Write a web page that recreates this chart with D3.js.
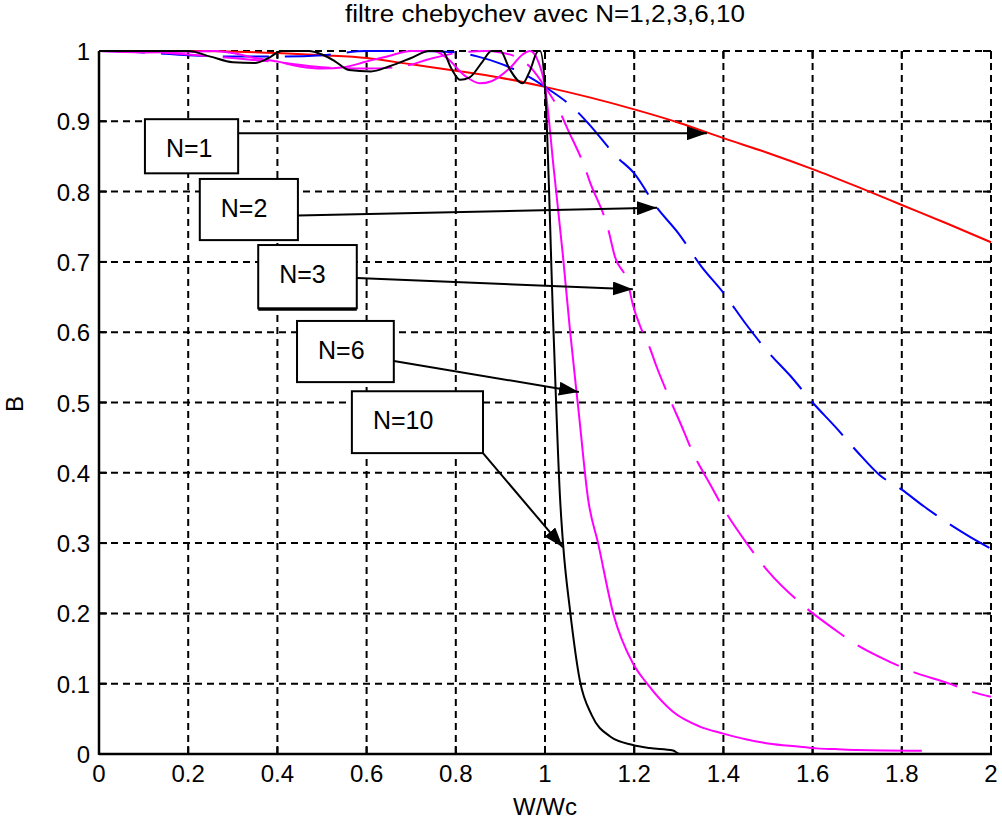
<!DOCTYPE html>
<html>
<head>
<meta charset="utf-8">
<script src="https://d3js.org/d3.v7.min.js"></script>
<style>
  body { margin: 0; background: #fff; }
  text { font-family: "Liberation Sans", Arial, sans-serif; }
</style>
</head>
<body>
<svg id="chart" width="1002" height="826"></svg>
<script>
// tick values and labels
const xTicks = [0, 0.2, 0.4, 0.6, 0.8, 1, 1.2, 1.4, 1.6, 1.8, 2];
const yTicks = [0, 0.1, 0.2, 0.3, 0.4, 0.5, 0.6, 0.7, 0.8, 0.9, 1];

// curves, [W/Wc, B]
const n1 = [[0,1],[0.2,1],[0.4,0.997],[0.5,0.994],[0.6,0.99],[0.7,0.981],[0.8,0.972],[0.9,0.962],[1,0.949],
  [1.1,0.934],[1.2,0.917],[1.3,0.898],[1.4,0.876],[1.5,0.855],[1.6,0.832],[1.7,0.807],[1.8,0.781],[1.9,0.755],[2,0.728]];

const n2 = [[0,1],[0.1,0.998],[0.2,0.994],[0.3,0.992],[0.4,0.992],[0.5,0.994],[0.6,1],[0.7,1],[0.8,0.998],
  [0.85,0.992],[0.9,0.982],[0.95,0.968],[1,0.949],[1.067,0.917],[1.1,0.895],[1.16,0.85],[1.2,0.826],[1.25,0.778],
  [1.3,0.74],[1.35,0.694],[1.4,0.656],[1.45,0.612],[1.5,0.572],[1.55,0.538],[1.6,0.5],[1.65,0.466],[1.7,0.43],
  [1.75,0.397],[1.8,0.376],[1.85,0.352],[1.9,0.33],[1.95,0.31],[2,0.292]];

const n3 = [[0,1],[0.1,0.999],[0.2,0.995],[0.3,0.99],[0.4,0.984],[0.5,0.977],[0.6,0.975],[0.67,0.977],[0.75,0.99],
  [0.8,0.997],[0.866,1],[0.9,0.998],[0.94,0.99],[0.97,0.975],[1,0.949],[1.03,0.918],[1.05,0.89],[1.09,0.833],
  [1.1,0.815],[1.141,0.748],[1.157,0.707],[1.186,0.67],[1.197,0.639],[1.217,0.603],[1.236,0.576],[1.249,0.553],
  [1.28,0.505],[1.312,0.458],[1.327,0.435],[1.377,0.376],[1.394,0.356],[1.452,0.3],[1.5,0.26],[1.572,0.215],
  [1.654,0.175],[1.685,0.161],[1.777,0.13],[1.812,0.12],[1.912,0.099],[1.945,0.091],[2,0.0815]];

const n6 = [[0,1],[0.1,0.998],[0.2,0.999],[0.26,1],[0.3,0.997],[0.35,0.99],[0.4,0.985],[0.45,0.978],[0.5,0.975],
  [0.55,0.977],[0.6,0.985],[0.65,0.993],[0.7,1],[0.75,1],[0.78,0.99],[0.82,0.965],[0.854,0.954],[0.88,0.957],
  [0.92,0.975],[0.95,0.995],[0.966,1],[0.985,0.985],[1,0.949],[1.02,0.83],[1.04,0.71],[1.056,0.603],[1.075,0.49],
  [1.097,0.361],[1.119,0.3],[1.153,0.2],[1.197,0.129],[1.229,0.1],[1.287,0.06],[1.347,0.039],[1.4,0.029],
  [1.45,0.021],[1.5,0.015],[1.572,0.0104],[1.61,0.008],[1.65,0.007],[1.7,0.0057],[1.845,0.0047]];

const n10 = [[0,1],[0.2,1],[0.25,0.992],[0.3,0.984],[0.35,0.983],[0.38,0.99],[0.41,1],[0.47,1],[0.5,0.995],
  [0.53,0.985],[0.56,0.973],[0.61,0.971],[0.65,0.978],[0.7,0.99],[0.74,1],[0.77,1],[0.79,0.975],[0.81,0.959],
  [0.83,0.962],[0.86,0.985],[0.88,1],[0.9,1],[0.92,0.975],[0.95,0.954],[0.965,0.97],[0.985,1],[0.989,1],
  [1,0.949],[1.019,0.603],[1.034,0.361],[1.041,0.295],[1.056,0.205],[1.078,0.105],[1.105,0.055],[1.146,0.025],
  [1.197,0.0128],[1.235,0.0085],[1.287,0.005],[1.303,0],[2,0]];

const series = [
  { data: n1, color: "#ff0000", dash: null },
  { data: n2, color: "#0000ff", dash: "46,16" },
  { data: n3, color: "#ff00ff", dash: "46,16" },
  { data: n6, color: "#ff00ff", dash: null },
  { data: n10, color: "#000000", dash: null }
];

// label boxes and arrows, in data units: box [x0, x1, yTop, yBottom], arrow from -> to
const labels = ["N=1", "N=2", "N=3", "N=6", "N=10"];
const boxes = [[0.103,0.312,0.903,0.826],[0.226,0.446,0.818,0.731],[0.357,0.578,0.724,0.634],
  [0.444,0.661,0.616,0.529],[0.567,0.861,0.516,0.428]];
const arrowFrom = [[0.312,0.883],[0.446,0.766],[0.578,0.677],[0.661,0.559],[0.861,0.428]];
const arrowTo = [[1.363,0.883],[1.251,0.777],[1.197,0.661],[1.076,0.515],[1.040,0.294]];

const svg = d3.select("#chart");
const x = d3.scaleLinear().domain([0, 2]).range([99, 991]);
const y = d3.scaleLinear().domain([0, 1]).range([754, 51]);

svg.append("defs").append("clipPath").attr("id", "clip")
  .append("rect").attr("x", 99).attr("y", 49).attr("width", 894).attr("height", 706);

svg.select("defs").append("marker")
  .attr("id", "head").attr("markerUnits", "userSpaceOnUse")
  .attr("viewBox", "0 0 20 14").attr("refX", 20).attr("refY", 7)
  .attr("markerWidth", 20).attr("markerHeight", 14).attr("orient", "auto")
  .append("path").attr("d", "M0,0 L20,7 L0,14 Z").attr("fill", "#000");

// grid
const grid = svg.append("g").attr("stroke", "#000").attr("stroke-width", 2).attr("stroke-dasharray", "7,5");
grid.selectAll(".gx").data(xTicks.slice(1)).join("line")
  .attr("x1", d => x(d)).attr("x2", d => x(d)).attr("y1", y(0)).attr("y2", y(1));
grid.selectAll(".gy").data(yTicks.slice(1)).join("line")
  .attr("y1", d => y(d)).attr("y2", d => y(d)).attr("x1", x(0)).attr("x2", x(2));

// ticks, pointing in, on all four sides
const tk = svg.append("g").attr("stroke", "#000").attr("stroke-width", 2);
xTicks.forEach(d => {
  tk.append("line").attr("x1", x(d)).attr("x2", x(d)).attr("y1", y(0)).attr("y2", y(0) - 8);
  tk.append("line").attr("x1", x(d)).attr("x2", x(d)).attr("y1", y(1)).attr("y2", y(1) + 8);
});
yTicks.forEach(d => {
  tk.append("line").attr("y1", y(d)).attr("y2", y(d)).attr("x1", x(0)).attr("x2", x(0) + 8);
  tk.append("line").attr("y1", y(d)).attr("y2", y(d)).attr("x1", x(2)).attr("x2", x(2) - 8);
});

// curves
const line = d3.line().curve(d3.curveMonotoneX).x(d => x(d[0])).y(d => y(d[1]));
svg.append("g").attr("clip-path", "url(#clip)")
  .selectAll("path").data(series).join("path")
    .attr("d", d => line(d.data))
    .attr("fill", "none")
    .attr("stroke", d => d.color)
    .attr("stroke-width", 2)
    .attr("stroke-dasharray", d => d.dash);

// axes lines
svg.append("line").attr("x1", x(0)).attr("x2", x(0)).attr("y1", y(1)).attr("y2", y(0) + 1)
  .attr("stroke", "#000").attr("stroke-width", 2.5);
svg.append("line").attr("x1", x(0)).attr("x2", x(2) + 1).attr("y1", y(0)).attr("y2", y(0))
  .attr("stroke", "#000").attr("stroke-width", 2.5);

// tick labels
svg.append("g").selectAll("text").data(xTicks).join("text")
  .attr("x", d => x(d)).attr("y", 782)
  .attr("text-anchor", "middle").attr("font-size", 24)
  .text(d => d3.format("~g")(d));
svg.append("g").selectAll("text").data(yTicks).join("text")
  .attr("x", 90).attr("y", d => y(d) + 9)
  .attr("text-anchor", "end").attr("font-size", 24)
  .text(d => d3.format("~g")(d));

// titles
svg.append("text").attr("x", 345).attr("y", 22)
  .attr("font-size", 23).attr("textLength", 400).attr("lengthAdjust", "spacingAndGlyphs")
  .text("filtre chebychev avec N=1,2,3,6,10");
svg.append("text").attr("x", 545).attr("y", 815).attr("text-anchor", "middle")
  .attr("font-size", 24).text("W/Wc");
svg.append("text").attr("transform", "translate(23,404) rotate(-90)").attr("text-anchor", "middle")
  .attr("font-size", 24).text("B");

// annotations
const ann = svg.append("g");
labels.forEach((lab, i) => {
  const b = boxes[i];
  ann.append("line")
    .attr("x1", x(arrowFrom[i][0])).attr("y1", y(arrowFrom[i][1]))
    .attr("x2", x(arrowTo[i][0])).attr("y2", y(arrowTo[i][1]))
    .attr("stroke", "#000").attr("stroke-width", 2).attr("marker-end", "url(#head)");
  ann.append("rect")
    .attr("x", x(b[0])).attr("y", y(b[2]))
    .attr("width", x(b[1]) - x(b[0])).attr("height", y(b[3]) - y(b[2]))
    .attr("fill", "#fff").attr("stroke", "#000").attr("stroke-width", 2);
  ann.append("text")
    .attr("x", x(b[0]) + 21).attr("y", y(b[2]) + 38)
    .attr("font-family", "'Open Sans', sans-serif").attr("font-size", 25)
    .text(lab);
});
// the N=3 box has a heavier bottom edge
ann.append("line")
  .attr("x1", x(boxes[2][0])).attr("x2", x(boxes[2][1]))
  .attr("y1", y(boxes[2][3]) + 1.5).attr("y2", y(boxes[2][3]) + 1.5)
  .attr("stroke", "#000").attr("stroke-width", 2);
</script>
</body>
</html>
